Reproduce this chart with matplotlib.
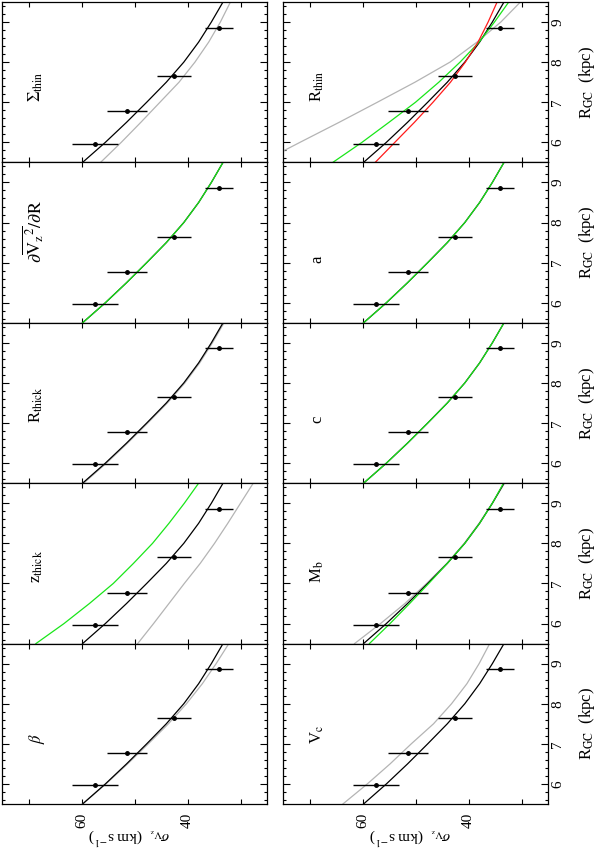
import matplotlib
matplotlib.use('Agg')
import matplotlib.pyplot as plt
from matplotlib.ticker import MultipleLocator

plt.rcParams['font.family'] = ['Liberation Serif', 'DejaVu Serif']
plt.rcParams['mathtext.fontset'] = 'stix'

# radius grid on which the model curves were read (kpc)
R_GRID = [5.5, 6.0, 6.5, 7.0, 7.5, 8.0, 8.5, 9.0, 9.5]

# best-fit model, sigma_Vz (km/s)
SIG_BEST = [59.8, 55.5, 51.5, 47.7, 44.0, 40.7, 37.9, 35.5, 33.3]

# observed points
R_OBS = [5.97, 6.77, 7.65, 8.86]
SIG_OBS = [57.5, 51.4, 42.5, 34.1]
SIG_ERR = [4.3, 3.8, 3.2, 2.6]

# models with one parameter changed
BETA_GRAY = [59.8, 55.4, 51.3, 47.4, 43.6, 40.2, 37.2, 34.6, 32.2]
ZTHICK_GRAY = [49.4, 46.4, 43.5, 40.6, 37.6, 34.9, 32.4, 30.0, 27.6]
ZTHICK_GREEN = [68.6, 63.3, 58.5, 54.0, 50.2, 46.6, 43.5, 40.6, 37.9]
RTHICK_GRAY = [59.6, 55.3, 51.3, 47.5, 43.8, 40.5, 37.7, 35.3, 33.1]
DVZ_GREEN = [59.8, 55.5, 51.5, 47.7, 44.0, 40.7, 37.9, 35.5, 33.3]
SIGTHIN_GRAY = [56.4, 52.5, 48.8, 45.2, 41.6, 38.6, 36.0, 33.8, 31.9]
VC_GRAY = [63.7, 59.1, 54.8, 50.8, 46.6, 43.2, 40.3, 38.0, 36.0]
MB_GRAY = [61.5, 56.6, 52.0, 47.9, 44.1, 40.8, 38.0, 35.5, 33.2]
MB_GREEN = [58.7, 54.8, 51.1, 47.5, 44.0, 40.7, 37.9, 35.5, 33.4]
C_GREEN = [59.8, 55.5, 51.5, 47.7, 44.0, 40.7, 37.9, 35.5, 33.3]
A_GREEN = [59.8, 55.5, 51.5, 47.7, 44.0, 40.7, 37.9, 35.5, 33.3]
RTHIN_GRAY = [79.1, 71.8, 64.4, 57.2, 50.1, 43.5, 38.4, 33.9, 30.2]
RTHIN_GREEN = [65.6, 60.1, 55.0, 50.0, 45.6, 41.6, 38.0, 35.1, 32.4]
RTHIN_RED = [57.6, 53.9, 50.2, 46.7, 43.4, 40.6, 38.2, 36.3, 34.6]

GRAY = '#b4b4b4'
GREEN = '#19e619'
RED = '#ff1a1a'

# panels, top to bottom: (label, [(colour, curve), ...])
LEFT = [
    (r'$\Sigma_{\rm thin}$', [(GRAY, SIGTHIN_GRAY)]),
    (r'$\partial\overline{{\rm V}_{\rm z}{}^{2}}/\partial{\rm R}$', [(GREEN, DVZ_GREEN)]),
    (r'R$_{\rm thick}$', [(GRAY, RTHICK_GRAY)]),
    (r'z$_{\rm thick}$', [(GRAY, ZTHICK_GRAY), (GREEN, ZTHICK_GREEN)]),
    (r'$\beta$', [(GRAY, BETA_GRAY)]),
]
RIGHT = [
    (r'R$_{\rm thin}$', [(GRAY, RTHIN_GRAY), (GREEN, RTHIN_GREEN), (RED, RTHIN_RED)]),
    ('a', [(GREEN, A_GREEN)]),
    ('c', [(GREEN, C_GREEN)]),
    (r'M$_{\rm b}$', [(GRAY, MB_GRAY), (GREEN, MB_GREEN)]),
    (r'V$_{\rm c}$', [(GRAY, VC_GRAY)]),
]

W, H = 598, 849
fig = plt.figure(figsize=(W / 100, H / 100), dpi=100)


def add_panel(x0, y0, x1, y1):
    return fig.add_axes([x0 / W, 1 - y1 / H, (x1 - x0) / W, (y1 - y0) / H])


row_h = 160.4
cols = [(2, 267, LEFT, False), (283, 548, RIGHT, True)]

for x0, x1, panels, is_right in cols:
    for i, (label, curves) in enumerate(panels):
        top = 2 + i * row_h
        ax = add_panel(x0, top, x1, top + row_h)
        ax.set_xlim(75, 25)
        ax.set_ylim(5.5, 9.5)

        # gray first, then best fit, then coloured ones on top
        for col, vals in curves:
            if col == GRAY:
                ax.plot(vals, R_GRID, color=col, lw=0.9)
        ax.plot(SIG_BEST, R_GRID, color='k', lw=0.9)
        for col, vals in curves:
            if col != GRAY:
                ax.plot(vals, R_GRID, color=col, lw=0.9)

        ax.errorbar(SIG_OBS, R_OBS, xerr=SIG_ERR, fmt='o', ms=2.5, color='k',
                    elinewidth=1.0, capsize=0)

        fs = 13 if 'partial' in label else 12
        ax.text(67.7, 7.0, label, rotation=90, rotation_mode='anchor',
                ha='left', va='baseline', fontsize=fs)

        for s in ax.spines.values():
            s.set_linewidth(0.9)

        ax.yaxis.set_major_locator(MultipleLocator(1))
        ax.yaxis.set_minor_locator(MultipleLocator(0.2))
        bottom_row = (i == len(panels) - 1)
        if bottom_row:
            ax.set_xticks([30, 40, 50, 60, 70], labels=['', '40', '', '60', ''])
        else:
            ax.set_xticks([30, 40, 50, 60, 70], labels=[])
        ax.tick_params(which='both', direction='in', top=True, bottom=True,
                       left=True, right=True, width=0.8, labelleft=False,
                       labelright=is_right, labelbottom=bottom_row)
        ax.tick_params(axis='x', which='major', length=3.6, pad=6.5,
                       labelsize=11, labelrotation=90)
        ax.tick_params(axis='y', which='major', length=5, pad=2.5,
                       labelsize=11, labelrotation=90)
        ax.tick_params(axis='y', which='minor', length=2.5)
        for t in ax.yaxis.get_major_ticks():
            t.label2.set_verticalalignment('center')

        if bottom_row:
            ax.text(51, -0.2, r'$\sigma_{{\rm V}_{\rm z}}$  (km s$^{-1}$)',
                    rotation=180, transform=ax.get_xaxis_transform(),
                    ha='center', va='center', fontsize=11)
        if is_right:
            ax.text(1.147, 7.5, r'R$_{\rm GC}$  (kpc)', rotation=90,
                    transform=ax.get_yaxis_transform(),
                    ha='center', va='center', fontsize=12)

fig.savefig('out.png', dpi=100)
plt.close(fig)
